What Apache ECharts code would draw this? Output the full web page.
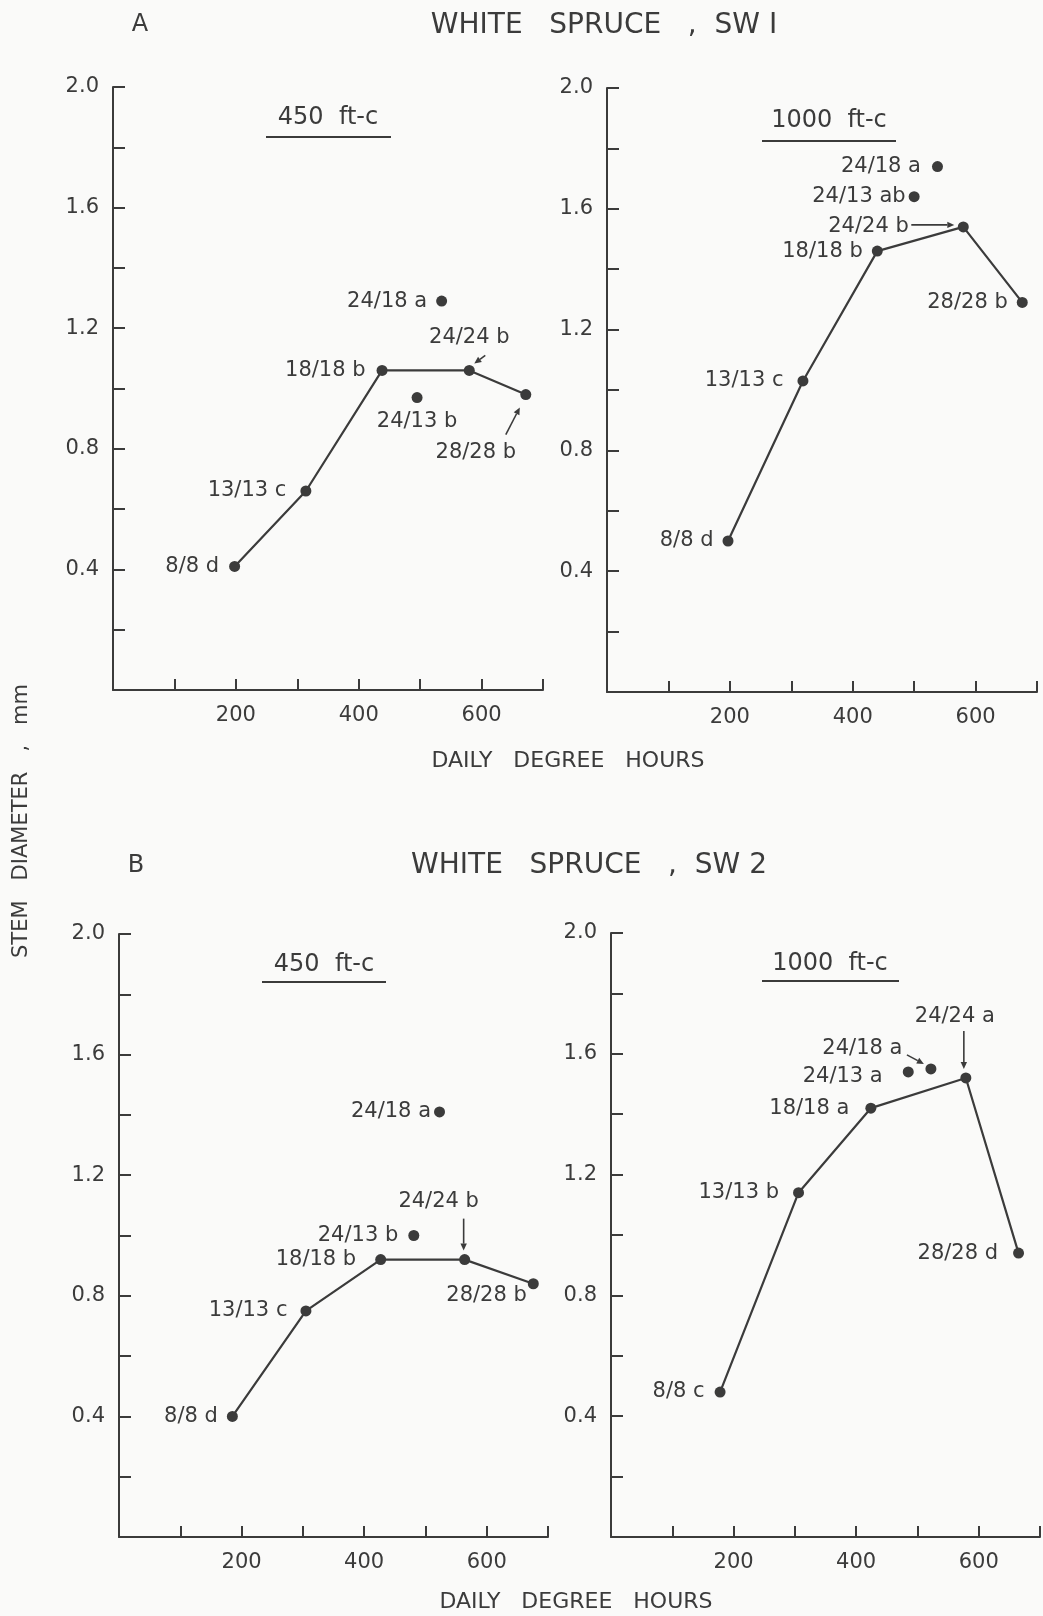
<!DOCTYPE html>
<html>
<head>
<meta charset="utf-8">
<title>White spruce stem diameter vs daily degree hours</title>
<script src="https://cdn.jsdelivr.net/npm/echarts@6/dist/echarts.min.js"></script>
<style>
  html, body { margin: 0; padding: 0; background: #fafaf9; }
  #chart { width: 1043px; height: 1616px; }
</style>
</head>
<body>
<div id="chart"></div>
<script>
// ---- values ----
// A: SW 1, 450 ft-c (points joined by the line, then the loose ones)
const sw1LowNames = ["8/8 d", "13/13 c", "18/18 b", "24/24 b", "28/28 b"];
const sw1LowX = [198, 314, 438, 580, 672];
const sw1LowY = [0.41, 0.66, 1.06, 1.06, 0.98];
const sw1LowLoneNames = ["24/18 a", "24/13 b"];
const sw1LowLoneX = [535, 495];
const sw1LowLoneY = [1.29, 0.97];

// A: SW 1, 1000 ft-c
const sw1HighNames = ["8/8 d", "13/13 c", "18/18 b", "24/24 b", "28/28 b"];
const sw1HighX = [197, 319, 440, 580, 676];
const sw1HighY = [0.50, 1.03, 1.46, 1.54, 1.29];
const sw1HighLoneNames = ["24/18 a", "24/13 ab"];
const sw1HighLoneX = [538, 500];
const sw1HighLoneY = [1.74, 1.64];

// B: SW 2, 450 ft-c
const sw2LowNames = ["8/8 d", "13/13 c", "18/18 b", "24/24 b", "28/28 b"];
const sw2LowX = [185, 305, 427, 564, 676];
const sw2LowY = [0.40, 0.75, 0.92, 0.92, 0.84];
const sw2LowLoneNames = ["24/18 a", "24/13 b"];
const sw2LowLoneX = [523, 481];
const sw2LowLoneY = [1.41, 1.00];

// B: SW 2, 1000 ft-c
const sw2HighNames = ["8/8 c", "13/13 b", "18/18 a", "24/24 a", "28/28 d"];
const sw2HighX = [178, 306, 424, 579, 665];
const sw2HighY = [0.48, 1.14, 1.42, 1.52, 0.94];
const sw2HighLoneNames = ["24/18 a", "24/13 a"];
const sw2HighLoneX = [522, 485];
const sw2HighLoneY = [1.55, 1.54];

const xTicks = [200, 400, 600];
const yTicks = [0.4, 0.8, 1.2, 1.6, 2.0];

// ---- look ----
const INK = "#3b3b3b";
const FONT = "DejaVu Sans";

// label placement per point (pixels, style only)
const sw1LowLabels = {
  "8/8 d": { pos: "left", d: 10 },
  "13/13 c": { pos: "left", d: 14 },
  "18/18 b": { pos: "left", d: 11 },
  "24/24 b": { pos: "top", d: 17 },
  "28/28 b": { pos: "inside", d: 0, off: [-50, 58] },
  "24/18 a": { pos: "left", d: 9 },
  "24/13 b": { pos: "bottom", d: 8 }
};
const sw1HighLabels = {
  "8/8 d": { pos: "left", d: 9 },
  "13/13 c": { pos: "left", d: 14 },
  "18/18 b": { pos: "left", d: 9 },
  "24/24 b": { pos: "left", d: 49 },
  "28/28 b": { pos: "left", d: 9 },
  "24/18 a": { pos: "left", d: 11 },
  "24/13 ab": { pos: "left", d: 3 }
};
const sw2LowLabels = {
  "8/8 d": { pos: "left", d: 9 },
  "13/13 c": { pos: "left", d: 13 },
  "18/18 b": { pos: "left", d: 19 },
  "24/24 b": { pos: "top", d: 42, off: [-26, 0] },
  "28/28 b": { pos: "left", d: 1, off: [0, 12] },
  "24/18 a": { pos: "left", d: 3 },
  "24/13 b": { pos: "left", d: 10 }
};
const sw2HighLabels = {
  "8/8 c": { pos: "left", d: 10 },
  "13/13 b": { pos: "left", d: 14 },
  "18/18 a": { pos: "left", d: 16 },
  "24/24 a": { pos: "top", d: 45, off: [-11, 0] },
  "28/28 d": { pos: "left", d: 15 },
  "24/18 a": { pos: "left", d: 23, off: [0, -20] },
  "24/13 a": { pos: "left", d: 20, off: [0, 5] }
};

// little pointer arrows: offsets from the point they point at
const sw1LowArrows = [
  { name: "24/24 b", from: [16, -15], to: [5, -7] },
  { name: "28/28 b", from: [-20, 40], to: [-6, 13] }
];
const sw1HighArrows = [{ name: "24/24 b", from: [-52, -2], to: [-9, -2] }];
const sw2LowArrows = [{ name: "24/24 b", from: [-1, -41], to: [-1, -9] }];
const sw2HighArrows = [
  { name: "24/24 a", from: [-2, -47], to: [-2, -9] },
  { name: "24/18 a", from: [-24, -14], to: [-7, -5] }
];

const panels = [
  { names: sw1LowNames, xs: sw1LowX, ys: sw1LowY, loneNames: sw1LowLoneNames, loneX: sw1LowLoneX, loneY: sw1LowLoneY,
    labels: sw1LowLabels, arrows: sw1LowArrows, grid: { left: 113, top: 87, width: 430, height: 603 } },
  { names: sw1HighNames, xs: sw1HighX, ys: sw1HighY, loneNames: sw1HighLoneNames, loneX: sw1HighLoneX, loneY: sw1HighLoneY,
    labels: sw1HighLabels, arrows: sw1HighArrows, grid: { left: 607, top: 88, width: 430, height: 604 } },
  { names: sw2LowNames, xs: sw2LowX, ys: sw2LowY, loneNames: sw2LowLoneNames, loneX: sw2LowLoneX, loneY: sw2LowLoneY,
    labels: sw2LowLabels, arrows: sw2LowArrows, grid: { left: 119, top: 934, width: 429, height: 603 } },
  { names: sw2HighNames, xs: sw2HighX, ys: sw2HighY, loneNames: sw2HighLoneNames, loneX: sw2HighLoneX, loneY: sw2HighLoneY,
    labels: sw2HighLabels, arrows: sw2HighArrows, grid: { left: 611, top: 933, width: 429, height: 604 } }
];

function pointItem(name, x, y, place) {
  return {
    name: name,
    value: [x, y],
    label: {
      show: true,
      position: place.pos,
      distance: place.d,
      offset: place.off || [0, 0]
    }
  };
}

const labelStyle = {
  formatter: "{b}",
  color: INK,
  fontSize: 21,
  fontFamily: FONT
};

const grids = [], xAxes = [], yAxes = [], series = [];
panels.forEach((p, i) => {
  grids.push(Object.assign({ containLabel: false, outerBoundsMode: "none" }, p.grid));
  xAxes.push({
    type: "value", gridIndex: i, min: 0, max: 700, interval: 100,
    axisLine: { show: true, lineStyle: { color: INK, width: 2 } },
    axisTick: { show: true, inside: true, length: 11, lineStyle: { color: INK, width: 2 } },
    splitLine: { show: false },
    axisLabel: {
      color: INK, fontSize: 21, fontFamily: FONT, margin: 15,
      formatter: v => (xTicks.indexOf(v) >= 0 ? String(v) : "")
    }
  });
  yAxes.push({
    type: "value", gridIndex: i, min: 0, max: 2, interval: 0.2,
    axisLine: { show: true, lineStyle: { color: INK, width: 2 } },
    axisTick: { show: true, inside: true, length: 12, lineStyle: { color: INK, width: 2 } },
    splitLine: { show: false },
    axisLabel: {
      color: INK, fontSize: 21, fontFamily: FONT, margin: 14,
      formatter: v => {
        const r = Math.round(v * 10);
        return yTicks.some(t => Math.round(t * 10) === r) ? (r / 10).toFixed(1) : "";
      }
    }
  });
  series.push({
    type: "line", xAxisIndex: i, yAxisIndex: i,
    symbol: "circle", symbolSize: 11,
    itemStyle: { color: INK, opacity: 1 },
    lineStyle: { color: INK, width: 2.2 },
    label: labelStyle,
    data: p.names.map((n, k) => pointItem(n, p.xs[k], p.ys[k], p.labels[n]))
  });
  series.push({
    type: "scatter", xAxisIndex: i, yAxisIndex: i,
    symbol: "circle", symbolSize: 11,
    itemStyle: { color: INK, opacity: 1 },
    label: labelStyle,
    data: p.loneNames.map((n, k) => pointItem(n, p.loneX[k], p.loneY[k], p.labels[n]))
  });
});

const chart = echarts.init(document.getElementById("chart"), null, { renderer: "canvas" });
chart.setOption({
  backgroundColor: "#fafaf9",
  animation: false,
  grid: grids,
  xAxis: xAxes,
  yAxis: yAxes,
  series: series
});

// ---- annotations ----
function txt(text, x, y, size, extra) {
  return Object.assign({
    type: "text", x: x, y: y,
    style: { text: text, fill: INK, fontSize: size, fontFamily: FONT, align: "center", verticalAlign: "middle" }
  }, extra || {});
}
function rule(x1, x2, y) {
  return { type: "line", shape: { x1: x1, y1: y, x2: x2, y2: y }, style: { stroke: INK, lineWidth: 2 } };
}

const graphics = [
  txt("A", 140, 25, 24),
  txt("WHITE   SPRUCE   ,  SW I", 604, 26, 28),
  txt("B", 136, 866, 24),
  txt("WHITE   SPRUCE   ,  SW 2", 589, 866, 28),
  txt("DAILY   DEGREE   HOURS", 568, 761, 22),
  txt("DAILY   DEGREE   HOURS", 576, 1602, 22),
  txt("STEM   DIAMETER   ,   mm", 22, 821, 21, { rotation: Math.PI / 2 }),
  txt("450  ft-c", 328, 118, 24), rule(266, 391, 137),
  txt("1000  ft-c", 829, 121, 24), rule(762, 896, 141),
  txt("450  ft-c", 324, 965, 24), rule(262, 386, 982),
  txt("1000  ft-c", 830, 964, 24), rule(762, 899, 981)
];

panels.forEach((p, gi) => {
  p.arrows.forEach(a => {
    let k = p.names.indexOf(a.name), x, y;
    if (k >= 0) { x = p.xs[k]; y = p.ys[k]; }
    else { k = p.loneNames.indexOf(a.name); x = p.loneX[k]; y = p.loneY[k]; }
    const c = chart.convertToPixel({ gridIndex: gi }, [x, y]);
    const x1 = c[0] + a.from[0], y1 = c[1] + a.from[1];
    const x2 = c[0] + a.to[0], y2 = c[1] + a.to[1];
    const len = Math.hypot(x2 - x1, y2 - y1);
    const dx = (x2 - x1) / len, dy = (y2 - y1) / len;
    const head = 7, half = 3.2;
    const bx = x2 - dx * head, by = y2 - dy * head;
    graphics.push({ type: "line", shape: { x1: x1, y1: y1, x2: bx, y2: by }, style: { stroke: INK, lineWidth: 1.6 } });
    graphics.push({
      type: "polygon",
      shape: { points: [[x2, y2], [bx - dy * half, by + dx * half], [bx + dy * half, by - dx * half]] },
      style: { fill: INK }
    });
  });
});

chart.setOption({ graphic: graphics });
</script>
</body>
</html>
